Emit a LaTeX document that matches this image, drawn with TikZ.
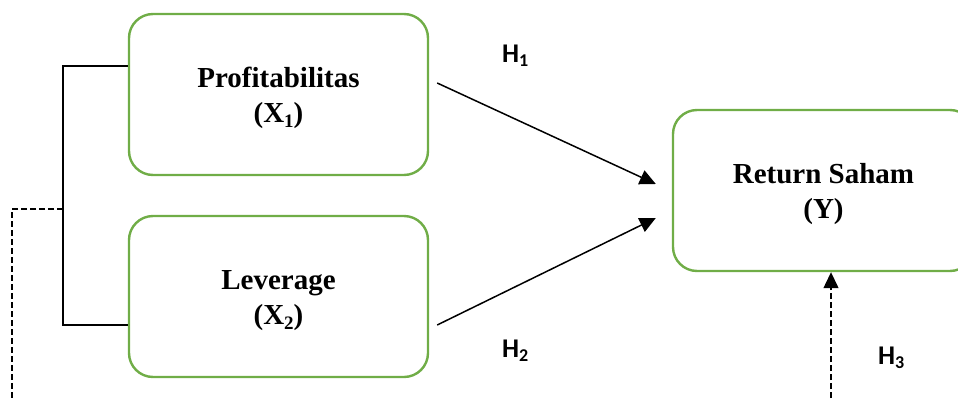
\documentclass[tikz,border=0pt]{standalone}
\usepackage{fontspec}
\setmainfont{Liberation Serif}
\newfontfamily\hfont{Carlito}
\usetikzlibrary{arrows.meta,calc}
\newcommand{\boxsub}[1]{\raisebox{-5pt}{\fontsize{19}{19}\selectfont #1}}
\newcommand{\hsub}[1]{\raisebox{-4pt}{\fontsize{18}{18}\selectfont #1}}
\begin{document}
\begin{tikzpicture}[x=1pt,y=-1pt,
  varbox/.style={draw={rgb,255:red,112;green,173;blue,71},
    line width=2.4pt, rounded corners=24pt, align=center, inner sep=0pt,
    font=\bfseries\fontsize{29}{35}\selectfont},
  hlabel/.style={anchor=base west, inner sep=0pt, font=\hfont\bfseries\fontsize{27}{27}\selectfont},
  conn/.style={line width=1.5pt, black},
  dconn/.style={line width=1.3pt, black, dash pattern=on 6pt off 3pt},
  tip/.style={-{Triangle[length=16pt,width=15pt]}}
]
\useasboundingbox (0,0) rectangle (958,399);
\node[varbox, minimum width=299pt, minimum height=161pt] (p) at (278.5,94.5)
  {\rule{0pt}{28pt}Profitabilitas\\(X\boxsub{1})};
\node[varbox, minimum width=299pt, minimum height=161pt] (l) at (278.5,296.5)
  {\rule{0pt}{28pt}Leverage\\(X\boxsub{2})};
\node[varbox, minimum width=301pt, minimum height=161pt] (y) at (823.5,190.5)
  {\rule{0pt}{28pt}Return Saham\\(Y)};
\node[hlabel] (h1) at (502,62) {H\hsub{1}};
\node[hlabel] (h2) at (502,357) {H\hsub{2}};
\node[hlabel] (h3) at (878,364) {H\hsub{3}};
% bracket
\coordinate (jt) at (63,66);
\coordinate (jb) at (63,325);
\coordinate (jm) at (63,209);
\draw[conn] ($(p.west)+(0,-28.5)$) -- (jt) -- (jb) -- ($(l.west)+(0,28.5)$);
% arrows to Y
\draw[conn,tip] ($(p.east)+(8,-11.5)$) -- ($(y.west)+(-16,-6.5)$);
\draw[conn,tip] ($(l.east)+(8,28.5)$) -- ($(y.west)+(-16,27.5)$);
% dashed moderation path
\coordinate (dl) at (12,209);
\coordinate (dbl) at (12,440);
\coordinate (dbr) at (831,440);
\draw[dconn,tip] (jm) -- (dl) -- (dbl) -- (dbr) -- ($(y.south)+(7.5,0)$);
\end{tikzpicture}
\end{document}
